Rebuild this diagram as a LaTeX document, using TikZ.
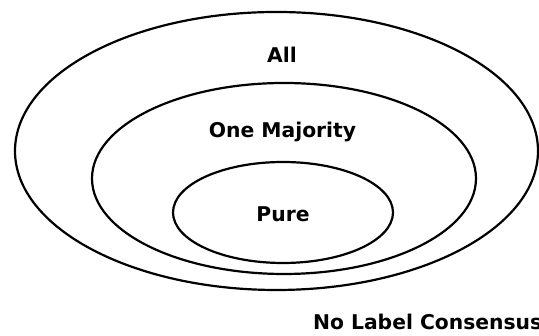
\documentclass[tikz,border=0pt]{standalone}
\usepackage{fontspec}
\setmainfont{DejaVu Sans}
\usetikzlibrary{shapes.geometric}
\begin{document}
\begin{tikzpicture}[x=1pt,y=1pt,line width=2.2pt,
    insieme/.style={draw,ellipse,inner sep=0pt},
    etichetta/.style={font=\bfseries\fontsize{20.3}{24}\selectfont,inner sep=0pt,anchor=base}]
% Definisci le variabili
\def\larg{539}  % larghezza della figura
\def\alt{336}   % altezza della figura

% Cornice della figura (il testo in basso viene tagliato)
\useasboundingbox (0,0) rectangle (\larg,\alt);
\clip (0,0) rectangle (\larg,\alt);

% Disegna gli insiemi uno dentro l'altro
\node[insieme,minimum width=523pt,minimum height=278pt] (tutti) at (276.5,185) {};
\node[insieme,minimum width=384pt,minimum height=191pt] (maggioranza) at (284,157.5) {};
\node[insieme,minimum width=220pt,minimum height=101pt] (puro) at (283,123.5) {};

% Etichette degli insiemi
\node[etichetta] (all) at (282,273) {All};
\node[etichetta] (one) at (282.5,198) {One Majority};
\node[etichetta] (pure) at (283,114) {Pure};
\node[etichetta,anchor=base west] (nessuno) at (312,6.5) {No Label Consensus};

\end{tikzpicture}
\end{document}
